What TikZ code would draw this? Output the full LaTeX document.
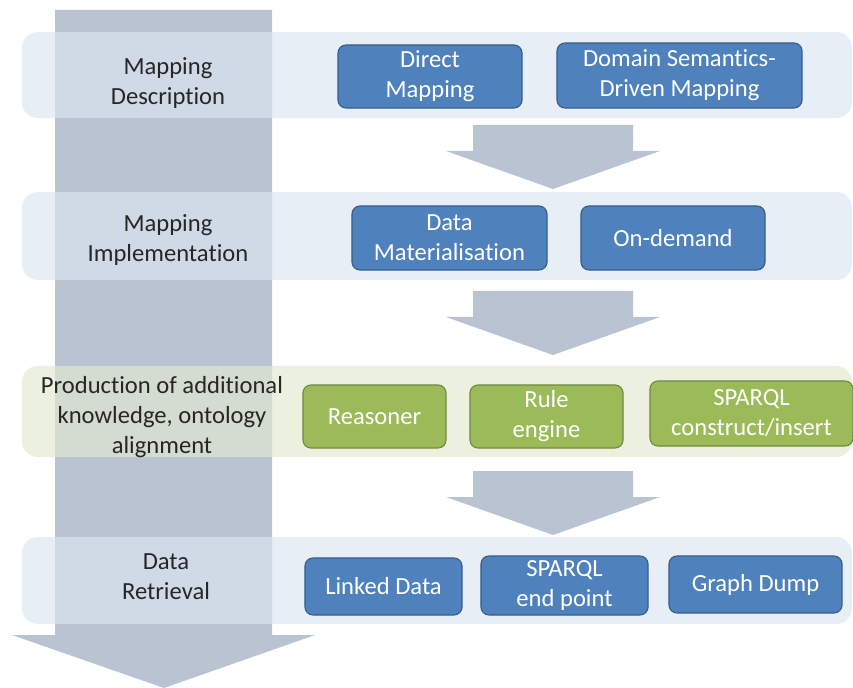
\documentclass[tikz,border=0pt]{standalone}
\usepackage{fontspec}
\setmainfont{Carlito}[Ligatures=NoCommon]
\usepackage{tikz}
\usetikzlibrary{calc}

\definecolor{arrowgrey}{RGB}{185,195,209}
\definecolor{bandblue}{RGB}{220,229,241}
\definecolor{bandgreen}{RGB}{225,234,205}
\definecolor{boxblue}{RGB}{79,129,189}
\definecolor{boxblueline}{RGB}{56,93,138}
\definecolor{boxgreen}{RGB}{155,187,89}
\definecolor{boxgreenline}{RGB}{113,137,63}

\tikzset{
    band/.style={rounded corners=0.4cm, inner sep=0pt, minimum width=20.75cm},
    bluebox/.style={draw=boxblueline, fill=boxblue, line width=0.8pt, rounded corners=0.2cm,
        inner sep=0pt, text=white, align=center},
    greenbox/.style={bluebox, draw=boxgreenline, fill=boxgreen},
    steplabel/.style={align=center, text=black!85}
}

\begin{document}
\begin{tikzpicture}[x=0.025cm, y=-0.025cm, font=\fontsize{17.5}{21.3}\selectfont]
        \useasboundingbox (0,0) rectangle (853,688);

        % Big arrow.
        \fill[arrowgrey] (55,10) -- (272,10) -- (272,635) -- (315,635) -- (164,688)
            -- (12,635) -- (55,635) -- cycle;

        % Bands.
        \node[band, fill=bandblue, fill opacity=0.66, minimum height=2.15cm] (descband) at (437,75) {};
        \node[band, fill=bandblue, fill opacity=0.66, minimum height=2.2cm] (implband) at (437,236) {};
        \node[band, fill=bandgreen, fill opacity=0.66, minimum height=2.275cm] (prodband) at (437,411.5) {};
        \node[band, fill=bandblue, fill opacity=0.66, minimum height=2.175cm] (retrband) at (437,580.5) {};

        % Labels.
        \node[steplabel] (desc) at (168,83) {Mapping\\Description};
        \node[steplabel] (impl) at (168,240) {Mapping\\Implementation};
        \node[steplabel] (prod) at (162,417) {Production of additional\\knowledge, ontology\\alignment};
        \node[steplabel] (retr) at (166,577) {Data\\Retrieval};

        % Mapping description.
        \node[bluebox, minimum width=4.6cm, minimum height=1.575cm] (direct) at (430,76.5) {Direct\\Mapping};
        \node[bluebox, minimum width=6.125cm, minimum height=1.625cm] (domain) at (679.5,75.5) {Domain Semantics-\\Driven Mapping};

        % Mapping implementation.
        \node[bluebox, minimum width=4.875cm, minimum height=1.6cm] (materialise) at (449.5,238) {Data\\Materialisation};
        \node[bluebox, minimum width=4.6cm, minimum height=1.6cm] (ondemand) at (673,238) {On-demand};

        % Production.
        \node[greenbox, minimum width=3.575cm, minimum height=1.575cm] (reasoner) at (374.5,416.5) {Reasoner};
        \node[greenbox, minimum width=3.825cm, minimum height=1.575cm] (rule) at (546.5,416.5) {Rule\\engine};
        \node[greenbox, minimum width=5.075cm, minimum height=1.625cm] (construct) at (751.5,413.5) {SPARQL\\construct/insert};

        % Retrieval.
        \node[bluebox, minimum width=3.925cm, minimum height=1.425cm] (linked) at (383.5,586.5) {Linked Data};
        \node[bluebox, minimum width=4.175cm, minimum height=1.475cm] (endpoint) at (564.5,585.5) {SPARQL\\end point};
        \node[bluebox, minimum width=4.325cm, minimum height=1.425cm] (dump) at (755.5,584.5) {Graph Dump};

        % Small arrows.
        \fill[arrowgrey] (473,125) -- (633,125) -- (633,151) -- (660,151) -- (553,189)
            -- (446,151) -- (473,151) -- cycle;
        \fill[arrowgrey] (473,291) -- (633,291) -- (633,317) -- (660,317) -- (553,355)
            -- (446,317) -- (473,317) -- cycle;
        \fill[arrowgrey] (473,471) -- (633,471) -- (633,497) -- (660,497) -- (553,535)
            -- (446,497) -- (473,497) -- cycle;

    \end{tikzpicture}
\end{document}
